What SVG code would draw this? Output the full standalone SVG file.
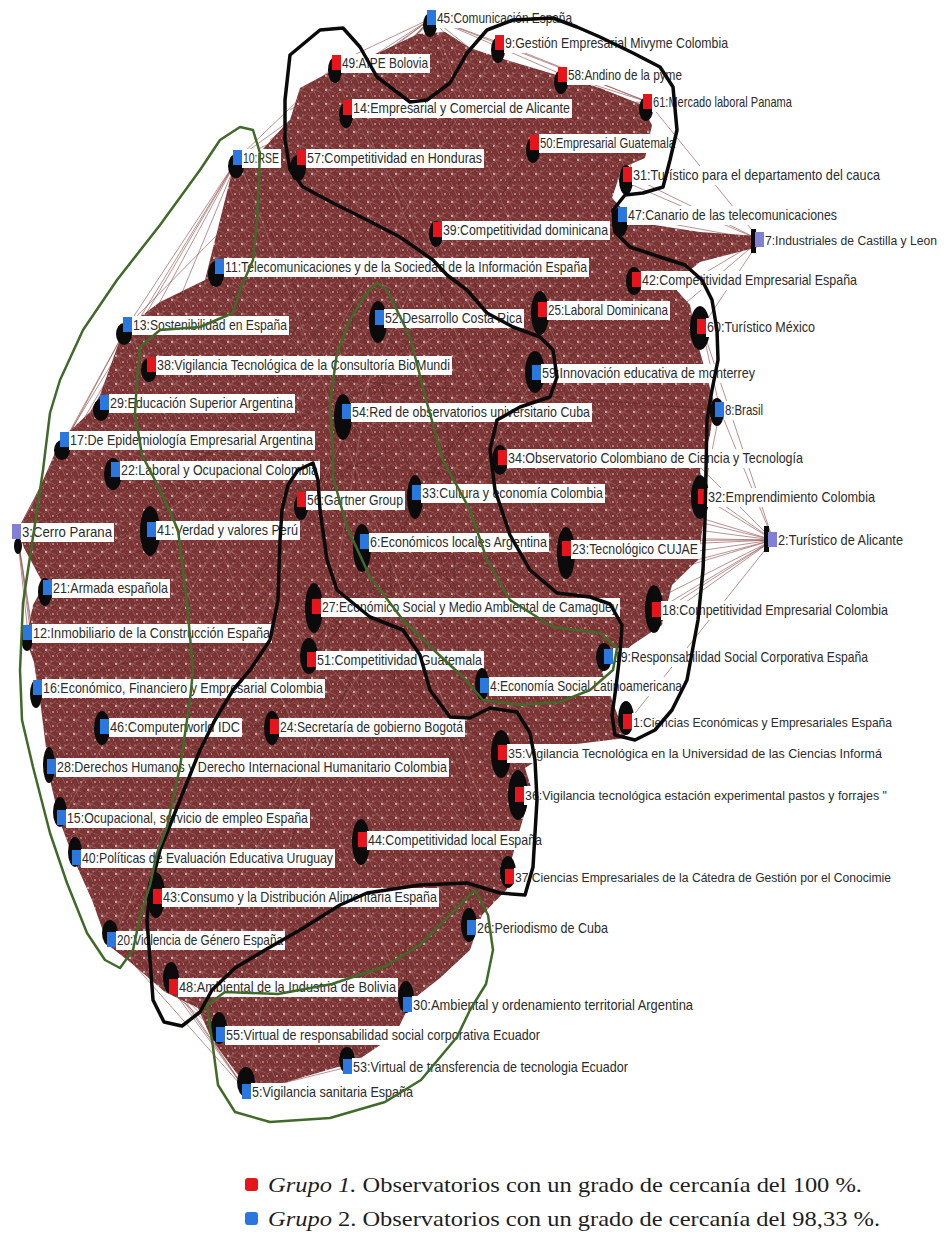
<svg xmlns="http://www.w3.org/2000/svg" xmlns:xlink="http://www.w3.org/1999/xlink" width="944" height="1240" viewBox="0 0 944 1240">
<style>
.lbl{font-family:"Liberation Sans Narrow","Liberation Sans",Arial,sans-serif;font-size:15px;fill:#2b2b2b}
.sm{font-size:13.5px}
.xs{font-size:12.5px}
.box{fill:#ffffff}
.r{fill:#e8141c}
.b{fill:#2a78df}
.l{fill:#8080d4}
.blob{fill:#0b0b0b}
.fan{stroke:#8a4646;stroke-width:0.7;fill:none;opacity:0.85}
.streak{stroke:#5a2222;stroke-width:0.8;fill:none;opacity:0.55}
.streak2{stroke:#c89a9a;stroke-width:0.6;fill:none;opacity:0.5}
.lk{fill:none;stroke:#0a0a0a;stroke-width:3.5;stroke-linejoin:round;stroke-linecap:round}
.lg{fill:none;stroke:#41692a;stroke-width:2.5;stroke-linejoin:round;stroke-linecap:round}
.leg{font-family:"Liberation Serif","Times New Roman",serif;font-size:21px;fill:#1e1e1e}
</style>
<defs>
<pattern id="mesh" width="14" height="14" patternUnits="userSpaceOnUse">
<rect width="14" height="14" fill="#7a3434"/>
<path d="M0 3 L14 9 M0 11 L14 1 M3 0 L9 14" stroke="#a06060" stroke-width="0.7"/>
<circle cx="4" cy="6" r="0.9" fill="#efd8d8"/>
<circle cx="11" cy="12" r="0.8" fill="#efd8d8"/>
<circle cx="9" cy="3" r="0.6" fill="#e6c8c8"/>
<circle cx="1.5" cy="12" r="0.5" fill="#e6c8c8"/>
</pattern>
<polygon id="massShape" points="290,120 300,88 330,72 380,52 418,34 445,32 470,48 500,58 540,70 600,88 640,104 652,125 645,158 622,168 612,198 635,222 700,232 758,236 758,247 700,262 672,285 690,305 698,345 708,380 714,405 710,435 700,470 705,510 698,560 672,585 662,625 632,645 602,672 612,700 626,738 560,746 525,768 532,790 522,822 512,858 508,888 482,915 470,950 440,978 412,1000 395,1035 355,1062 300,1078 255,1092 238,1075 212,1040 198,1008 165,992 130,962 108,945 92,900 75,862 60,822 50,780 45,740 40,700 34,662 26,640 33,605 44,585 24,548 18,530 32,505 52,460 60,440 90,412 100,395 118,345 125,328 160,302 205,280 220,220 232,172 262,150 285,125"/>
<clipPath id="massClip"><use xlink:href="#massShape"/></clipPath>
</defs>
<rect width="944" height="1240" fill="#ffffff"/>

<g id="connectors">
<path class="fan" d="M773,540 L703,497 M773,540 L567,549 M773,540 L657,610 M773,540 L503,458 M773,540 L609,657 M773,540 L365,542 M773,540 L317,607 M773,540 L628,722 M773,540 L537,373 M773,540 L417,493 M773,540 L485,686 M773,540 L543,310 M773,540 L720,410 M773,540 L702,327 M773,540 L312,660 M773,540 L152,530 M773,540 L680,600 M773,540 L640,580 M773,540 L690,520"/>
<path class="fan" d="M760,240 L623,215 M760,240 L628,175 M760,240 L637,280 M760,240 L702,327 M760,240 L543,310 M760,240 L438,230 M760,240 L537,373 M760,240 L535,143 M760,240 L503,458 M760,240 L220,267 M760,240 L648,102 M760,240 L380,318 M760,240 L680,255 M760,240 L660,230"/>
<path class="fan" d="M17,532 L65,440 M17,532 L116,470 M17,532 L48,588 M17,532 L28,633 M17,532 L38,688 M17,532 L152,530 M17,532 L105,403 M17,532 L128,325 M17,532 L52,767 M17,532 L152,365 M17,532 L238,158 M17,532 L62,818"/>
<path class="fan" d="M432,18 L337,63 M432,18 L348,108 M432,18 L238,158 M432,18 L302,158 M432,18 L500,43 M432,18 L563,75 M432,18 L648,102 M432,18 L535,143 M432,18 L438,230 M432,18 L220,267 M432,18 L128,325 M432,18 L628,175 M432,18 L290,110 M432,18 L270,140"/>
<path class="fan" d="M247,1092 L112,940 M247,1092 L174,987 M247,1092 L221,1035 M247,1092 L348,1067 M247,1092 L408,1005 M247,1092 L472,928 M247,1092 L158,897 M247,1092 L77,858 M247,1092 L62,818 M247,1092 L363,840 M247,1092 L510,877 M247,1092 L520,795"/>
<path class="fan" d="M348,1067 L221,1035 M348,1067 L408,1005 M348,1067 L472,928 M348,1067 L174,987 M348,1067 L112,940 M348,1067 L158,897 M348,1067 L510,877 M348,1067 L363,840 M348,1067 L260,1060 M348,1067 L280,1045"/>
<path class="fan" d="M221,1035 L112,940 M221,1035 L174,987 M221,1035 L408,1005 M221,1035 L472,928 M221,1035 L158,897 M221,1035 L77,858 M221,1035 L363,840"/>
<path class="fan" d="M408,1005 L472,928 M408,1005 L510,877 M408,1005 L363,840 M408,1005 L158,897 M408,1005 L174,987 M408,1005 L112,940 M408,1005 L520,795"/>
<path class="fan" d="M112,940 L77,858 M112,940 L62,818 M112,940 L52,767 M112,940 L158,897 M112,940 L174,987 M112,940 L105,727"/>
<path class="fan" d="M720,410 L702,327 M720,410 L637,280 M720,410 L703,497 M720,410 L503,458 M720,410 L537,373 M720,410 L543,310"/>
<path class="fan" d="M648,102 L563,75 M648,102 L500,43 M648,102 L535,143 M648,102 L348,108 M648,102 L628,175 M648,102 L438,230"/>
<path class="fan" d="M472,928 L510,877 M472,928 L520,795 M472,928 L363,840 M472,928 L503,753 M472,928 L158,897"/>
<path class="fan" d="M238,158 L220,267 M238,158 L128,325 M238,158 L152,365 M238,158 L105,403 M238,158 L65,440 M238,158 L302,158 M238,158 L337,63 M238,158 L348,108 M128,325 L65,440 M128,325 L105,403 M65,440 L17,532"/>
<use xlink:href="#massShape" fill="url(#mesh)"/>
<g clip-path="url(#massClip)">
<path class="streak" d="M432,18 L503,458 M337,63 L609,657 M238,158 L567,549 M128,325 L628,722 M65,440 L703,497 M17,532 L637,280 M105,403 L520,795 M52,767 L537,373 M158,897 L628,175 M112,940 L543,310 M220,267 L510,877 M302,158 L485,686 M348,108 L363,840 M500,43 L152,530 M563,75 L28,633 M648,102 L62,818 M623,215 L174,987 M702,327 L48,588 M657,610 L116,470 M720,410 L152,365 M703,497 L38,688 M472,928 L438,230 M408,1005 L380,318 M221,1035 L417,493 M535,143 L77,858 M628,722 L105,727 M503,753 L65,440 M520,795 L238,158 M510,877 L302,500 M312,660 L637,280 M275,727 L543,310"/>
<path class="streak2" d="M348,108 L657,610 M302,158 L703,497 M220,267 L609,657 M152,365 L628,722 M105,403 L510,877 M65,440 L472,928 M48,588 L623,215 M38,688 L535,143 M62,818 L500,43 M112,940 L438,230 M174,987 L537,373 M247,1092 L380,318 M408,1005 L128,325 M510,877 L238,158 M628,722 L337,63 M657,610 L432,18"/>
</g>
</g>

<g id="nodes">
<g id="n45"><ellipse class="blob" cx="430" cy="25" rx="7" ry="12"/><rect class="box" x="436" y="9" width="138" height="19"/><rect class="b" x="427" y="10" width="9" height="15"/><text class="lbl" x="437" y="23" textLength="135" lengthAdjust="spacingAndGlyphs">45:Comunicación España</text></g>
<g id="n9"><ellipse class="blob" cx="498" cy="50" rx="7" ry="13"/><rect class="box" x="504" y="34" width="226" height="19"/><rect class="r" x="495" y="35" width="9" height="15"/><text class="lbl" x="505" y="48" textLength="223" lengthAdjust="spacingAndGlyphs">9:Gestión Empresarial Mivyme Colombia</text></g>
<g id="n49"><ellipse class="blob" cx="335" cy="70" rx="7" ry="13"/><rect class="box" x="341" y="54" width="89" height="19"/><rect class="r" x="332" y="55" width="9" height="15"/><text class="lbl" x="342" y="68" textLength="86" lengthAdjust="spacingAndGlyphs">49:AIPE Bolovia</text></g>
<g id="n58"><ellipse class="blob" cx="561" cy="82" rx="7" ry="12"/><rect class="box" x="567" y="66" width="117" height="19"/><rect class="r" x="558" y="67" width="9" height="15"/><text class="lbl" x="568" y="80" textLength="114" lengthAdjust="spacingAndGlyphs">58:Andino de la pyme</text></g>
<g id="n14"><ellipse class="blob" cx="346" cy="115" rx="7" ry="13"/><rect class="box" x="352" y="99" width="220" height="19"/><rect class="r" x="343" y="100" width="9" height="15"/><text class="lbl" x="353" y="113" textLength="217" lengthAdjust="spacingAndGlyphs">14:Empresarial y Comercial de Alicante</text></g>
<g id="n61"><ellipse class="blob" cx="646" cy="109" rx="7" ry="12"/><rect class="box" x="652" y="93" width="142" height="19"/><rect class="r" x="643" y="94" width="9" height="15"/><text class="lbl" x="653" y="107" textLength="139" lengthAdjust="spacingAndGlyphs">61:Mercado laboral Panama</text></g>
<g id="n10"><ellipse class="blob" cx="236" cy="166" rx="8" ry="12"/><rect class="box" x="242" y="149" width="39" height="19"/><rect class="b" x="233" y="150" width="9" height="15"/><text class="lbl" x="243" y="163" textLength="36" lengthAdjust="spacingAndGlyphs">10:RSE</text></g>
<g id="n57"><ellipse class="blob" cx="298" cy="168" rx="8" ry="13"/><rect class="box" x="306" y="149" width="178" height="19"/><rect class="r" x="297" y="150" width="9" height="15"/><text class="lbl" x="307" y="163" textLength="175" lengthAdjust="spacingAndGlyphs">57:Competitividad en Honduras</text></g>
<g id="n50"><ellipse class="blob" cx="533" cy="150" rx="7" ry="13"/><rect class="box" x="539" y="134" width="138" height="19"/><rect class="r" x="530" y="135" width="9" height="15"/><text class="lbl" x="540" y="148" textLength="135" lengthAdjust="spacingAndGlyphs">50:Empresarial Guatemala</text></g>
<g id="n31"><ellipse class="blob" cx="626" cy="180" rx="7" ry="15"/><rect class="box" x="632" y="166" width="250" height="19"/><rect class="r" x="623" y="167" width="9" height="15"/><text class="lbl" x="633" y="180" textLength="247" lengthAdjust="spacingAndGlyphs">31:Turístico para el departamento del cauca</text></g>
<g id="n47"><ellipse class="blob" cx="620" cy="222" rx="8" ry="15"/><rect class="box" x="627" y="206" width="212" height="19"/><rect class="b" x="618" y="207" width="9" height="15"/><text class="lbl" x="628" y="220" textLength="209" lengthAdjust="spacingAndGlyphs">47:Canario de las telecomunicaciones</text></g>
<g id="n7"><rect class="blob" x="751" y="229" width="5" height="24"/><rect class="box" x="764" y="231" width="176" height="19"/><rect class="l" x="755" y="232" width="9" height="15"/><text class="lbl xs" x="765" y="245" textLength="172" lengthAdjust="spacingAndGlyphs">7:Industriales de Castilla y Leon</text></g>
<g id="n39"><ellipse class="blob" cx="436" cy="234" rx="7" ry="13"/><rect class="box" x="442" y="221" width="168" height="19"/><rect class="r" x="433" y="222" width="9" height="15"/><text class="lbl" x="443" y="235" textLength="165" lengthAdjust="spacingAndGlyphs">39:Competitividad dominicana</text></g>
<g id="n11"><ellipse class="blob" cx="216" cy="274" rx="8" ry="13"/><rect class="box" x="224" y="258" width="365" height="19"/><rect class="b" x="215" y="259" width="9" height="15"/><text class="lbl" x="225" y="272" textLength="362" lengthAdjust="spacingAndGlyphs">11:Telecomunicaciones y de la Sociedad de la Información España</text></g>
<g id="n42"><ellipse class="blob" cx="634" cy="281" rx="8" ry="14"/><rect class="box" x="641" y="271" width="218" height="19"/><rect class="r" x="632" y="272" width="9" height="15"/><text class="lbl" x="642" y="285" textLength="215" lengthAdjust="spacingAndGlyphs">42:Competitividad Empresarial España</text></g>
<g id="n13"><ellipse class="blob" cx="124" cy="334" rx="8" ry="11"/><rect class="box" x="132" y="316" width="157" height="19"/><rect class="b" x="123" y="317" width="9" height="15"/><text class="lbl" x="133" y="330" textLength="154" lengthAdjust="spacingAndGlyphs">13:Sostenibilidad en España</text></g>
<g id="n52"><ellipse class="blob" cx="378" cy="322" rx="9" ry="21"/><rect class="box" x="384" y="309" width="140" height="19"/><rect class="b" x="375" y="310" width="9" height="15"/><text class="lbl" x="385" y="323" textLength="137" lengthAdjust="spacingAndGlyphs">52:Desarrollo Costa Rica</text></g>
<g id="n25"><ellipse class="blob" cx="540" cy="313" rx="9" ry="22"/><rect class="box" x="547" y="301" width="123" height="19"/><rect class="r" x="538" y="302" width="9" height="15"/><text class="lbl" x="548" y="315" textLength="120" lengthAdjust="spacingAndGlyphs">25:Laboral Dominicana</text></g>
<g id="n60"><ellipse class="blob" cx="700" cy="328" rx="10" ry="22"/><rect class="box" x="706" y="318" width="111" height="19"/><rect class="r" x="697" y="319" width="9" height="15"/><text class="lbl" x="707" y="332" textLength="108" lengthAdjust="spacingAndGlyphs">60:Turístico México</text></g>
<g id="n38"><ellipse class="blob" cx="149" cy="370" rx="8" ry="12"/><rect class="box" x="156" y="356" width="296" height="19"/><rect class="r" x="147" y="357" width="9" height="15"/><text class="lbl" x="157" y="370" textLength="293" lengthAdjust="spacingAndGlyphs">38:Vigilancia Tecnológica de la Consultoría BioMundi</text></g>
<g id="n59"><ellipse class="blob" cx="535" cy="372" rx="10" ry="21"/><rect class="box" x="541" y="364" width="216" height="19"/><rect class="b" x="532" y="365" width="9" height="15"/><text class="lbl" x="542" y="378" textLength="213" lengthAdjust="spacingAndGlyphs">59:Innovación educativa de monterrey</text></g>
<g id="n29"><ellipse class="blob" cx="101" cy="410" rx="8" ry="11"/><rect class="box" x="109" y="394" width="186" height="19"/><rect class="b" x="100" y="395" width="9" height="15"/><text class="lbl" x="110" y="408" textLength="183" lengthAdjust="spacingAndGlyphs">29:Educación Superior Argentina</text></g>
<g id="n54"><ellipse class="blob" cx="343" cy="417" rx="9" ry="23"/><rect class="box" x="351" y="403" width="241" height="19"/><rect class="b" x="342" y="404" width="9" height="15"/><text class="lbl" x="352" y="417" textLength="238" lengthAdjust="spacingAndGlyphs">54:Red de observatorios universitario Cuba</text></g>
<g id="n8"><ellipse class="blob" cx="717" cy="412" rx="7" ry="14"/><rect class="box" x="724" y="401" width="41" height="19"/><rect class="b" x="715" y="402" width="9" height="15"/><text class="lbl" x="725" y="415" textLength="38" lengthAdjust="spacingAndGlyphs">8:Brasil</text></g>
<g id="n17"><ellipse class="blob" cx="62" cy="450" rx="8" ry="10"/><rect class="box" x="69" y="431" width="246" height="19"/><rect class="b" x="60" y="432" width="9" height="15"/><text class="lbl" x="70" y="445" textLength="243" lengthAdjust="spacingAndGlyphs">17:De Epidemiología Empresarial Argentina</text></g>
<g id="n34"><ellipse class="blob" cx="500" cy="460" rx="8" ry="15"/><rect class="box" x="507" y="449" width="298" height="19"/><rect class="r" x="498" y="450" width="9" height="15"/><text class="lbl" x="508" y="463" textLength="295" lengthAdjust="spacingAndGlyphs">34:Observatorio Colombiano de Ciencia y Tecnología</text></g>
<g id="n22"><ellipse class="blob" cx="113" cy="474" rx="9" ry="16"/><rect class="box" x="120" y="461" width="200" height="19"/><rect class="b" x="111" y="462" width="9" height="15"/><text class="lbl" x="121" y="475" textLength="197" lengthAdjust="spacingAndGlyphs">22:Laboral y Ocupacional Colombia</text></g>
<g id="n32"><ellipse class="blob" cx="700" cy="497" rx="9" ry="22"/><rect class="box" x="707" y="488" width="170" height="19"/><rect class="r" x="698" y="489" width="9" height="15"/><text class="lbl" x="708" y="502" textLength="167" lengthAdjust="spacingAndGlyphs">32:Emprendimiento Colombia</text></g>
<g id="n56"><ellipse class="blob" cx="301" cy="507" rx="7" ry="13"/><rect class="box" x="306" y="491" width="99" height="19"/><rect class="r" x="297" y="492" width="9" height="15"/><text class="lbl" x="307" y="505" textLength="96" lengthAdjust="spacingAndGlyphs">56:Gartner Group</text></g>
<g id="n33"><ellipse class="blob" cx="415" cy="497" rx="8" ry="22"/><rect class="box" x="421" y="484" width="184" height="19"/><rect class="b" x="412" y="485" width="9" height="15"/><text class="lbl" x="422" y="498" textLength="181" lengthAdjust="spacingAndGlyphs">33:Cultura y economía Colombia</text></g>
<g id="n3"><ellipse class="blob" cx="18" cy="546" rx="4" ry="8"/><rect class="box" x="21" y="523" width="93" height="19"/><rect class="l" x="12" y="524" width="9" height="15"/><text class="lbl" x="22" y="537" textLength="90" lengthAdjust="spacingAndGlyphs">3:Cerro Parana</text></g>
<g id="n41"><ellipse class="blob" cx="150" cy="531" rx="10" ry="25"/><rect class="box" x="156" y="521" width="144" height="19"/><rect class="b" x="147" y="522" width="9" height="15"/><text class="lbl" x="157" y="535" textLength="141" lengthAdjust="spacingAndGlyphs">41:Verdad y valores Perú</text></g>
<g id="n6"><ellipse class="blob" cx="362" cy="548" rx="9" ry="24"/><rect class="box" x="369" y="533" width="180" height="19"/><rect class="b" x="360" y="534" width="9" height="15"/><text class="lbl" x="370" y="547" textLength="177" lengthAdjust="spacingAndGlyphs">6:Económicos locales Argentina</text></g>
<g id="n2"><rect class="blob" x="764" y="526" width="5" height="26"/><rect class="box" x="777" y="531" width="128" height="19"/><rect class="l" x="768" y="532" width="9" height="15"/><text class="lbl" x="778" y="545" textLength="125" lengthAdjust="spacingAndGlyphs">2:Turístico de Alicante</text></g>
<g id="n23"><ellipse class="blob" cx="566" cy="553" rx="9" ry="26"/><rect class="box" x="571" y="540" width="129" height="19"/><rect class="r" x="562" y="541" width="9" height="15"/><text class="lbl" x="572" y="554" textLength="126" lengthAdjust="spacingAndGlyphs">23:Tecnológico CUJAE</text></g>
<g id="n21"><ellipse class="blob" cx="45" cy="592" rx="7" ry="14"/><rect class="box" x="52" y="579" width="118" height="19"/><rect class="b" x="43" y="580" width="9" height="15"/><text class="lbl" x="53" y="593" textLength="115" lengthAdjust="spacingAndGlyphs">21:Armada española</text></g>
<g id="n27"><ellipse class="blob" cx="314" cy="608" rx="9" ry="25"/><rect class="box" x="321" y="598" width="299" height="19"/><rect class="r" x="312" y="599" width="9" height="15"/><text class="lbl" x="322" y="612" textLength="296" lengthAdjust="spacingAndGlyphs">27:Económico Social y Medio Ambiental de Camagüey</text></g>
<g id="n18"><ellipse class="blob" cx="654" cy="609" rx="9" ry="24"/><rect class="box" x="661" y="601" width="229" height="19"/><rect class="r" x="652" y="602" width="9" height="15"/><text class="lbl" x="662" y="615" textLength="226" lengthAdjust="spacingAndGlyphs">18:Competitividad Empresarial Colombia</text></g>
<g id="n12"><ellipse class="blob" cx="27" cy="638" rx="6" ry="13"/><rect class="box" x="32" y="624" width="240" height="19"/><rect class="b" x="23" y="625" width="9" height="15"/><text class="lbl" x="33" y="638" textLength="237" lengthAdjust="spacingAndGlyphs">12:Inmobiliario de la Construcción España</text></g>
<g id="n51"><ellipse class="blob" cx="309" cy="656" rx="9" ry="18"/><rect class="box" x="316" y="651" width="168" height="19"/><rect class="r" x="307" y="652" width="9" height="15"/><text class="lbl" x="317" y="665" textLength="165" lengthAdjust="spacingAndGlyphs">51:Competitividad Guatemala</text></g>
<g id="n19"><ellipse class="blob" cx="604" cy="657" rx="8" ry="14"/><rect class="box" x="613" y="648" width="257" height="19"/><rect class="b" x="604" y="649" width="9" height="15"/><text class="lbl" x="614" y="662" textLength="254" lengthAdjust="spacingAndGlyphs">19:Responsabilidad Social Corporativa España</text></g>
<g id="n4"><ellipse class="blob" cx="482" cy="684" rx="7" ry="16"/><rect class="box" x="489" y="677" width="195" height="19"/><rect class="b" x="480" y="678" width="9" height="15"/><text class="lbl" x="490" y="691" textLength="192" lengthAdjust="spacingAndGlyphs">4:Economía Social Latinoamericana</text></g>
<g id="n16"><ellipse class="blob" cx="36" cy="694" rx="6" ry="14"/><rect class="box" x="42" y="679" width="283" height="19"/><rect class="b" x="33" y="680" width="9" height="15"/><text class="lbl" x="43" y="693" textLength="280" lengthAdjust="spacingAndGlyphs">16:Económico, Financiero y Empresarial Colombia</text></g>
<g id="n46"><ellipse class="blob" cx="102" cy="728" rx="8" ry="17"/><rect class="box" x="109" y="718" width="133" height="19"/><rect class="b" x="100" y="719" width="9" height="15"/><text class="lbl" x="110" y="732" textLength="130" lengthAdjust="spacingAndGlyphs">46:Computerworld IDC</text></g>
<g id="n24"><ellipse class="blob" cx="272" cy="728" rx="8" ry="17"/><rect class="box" x="279" y="718" width="186" height="19"/><rect class="r" x="270" y="719" width="9" height="15"/><text class="lbl" x="280" y="732" textLength="183" lengthAdjust="spacingAndGlyphs">24:Secretaría de gobierno Bogotá</text></g>
<g id="n1"><ellipse class="blob" cx="626" cy="718" rx="8" ry="17"/><rect class="box" x="632" y="713" width="263" height="19"/><rect class="r" x="623" y="714" width="9" height="15"/><text class="lbl sm" x="633" y="727" textLength="259" lengthAdjust="spacingAndGlyphs">1:Ciencias Económicas y Empresariales España</text></g>
<g id="n35"><ellipse class="blob" cx="501" cy="754" rx="10" ry="24"/><rect class="box" x="507" y="744" width="378" height="19"/><rect class="r" x="498" y="745" width="9" height="15"/><text class="lbl sm" x="508" y="758" textLength="374" lengthAdjust="spacingAndGlyphs">35:Vigilancia Tecnológica en la Universidad de las Ciencias Informá</text></g>
<g id="n28"><ellipse class="blob" cx="49" cy="765" rx="6" ry="18"/><rect class="box" x="56" y="758" width="393" height="19"/><rect class="b" x="47" y="759" width="9" height="15"/><text class="lbl" x="57" y="772" textLength="390" lengthAdjust="spacingAndGlyphs">28:Derechos Humanos y Derecho Internacional Humanitario Colombia</text></g>
<g id="n36"><ellipse class="blob" cx="518" cy="795" rx="10" ry="25"/><rect class="box" x="524" y="786" width="366" height="19"/><rect class="r" x="515" y="787" width="9" height="15"/><text class="lbl sm" x="525" y="800" textLength="362" lengthAdjust="spacingAndGlyphs">36:Vigilancia tecnológica estación experimental pastos y forrajes "</text></g>
<g id="n15"><ellipse class="blob" cx="60" cy="812" rx="7" ry="15"/><rect class="box" x="66" y="809" width="244" height="19"/><rect class="b" x="57" y="810" width="9" height="15"/><text class="lbl" x="67" y="823" textLength="241" lengthAdjust="spacingAndGlyphs">15:Ocupacional, servicio de empleo España</text></g>
<g id="n44"><ellipse class="blob" cx="361" cy="842" rx="9" ry="23"/><rect class="box" x="367" y="831" width="177" height="19"/><rect class="r" x="358" y="832" width="9" height="15"/><text class="lbl" x="368" y="845" textLength="174" lengthAdjust="spacingAndGlyphs">44:Competitividad local España</text></g>
<g id="n40"><ellipse class="blob" cx="75" cy="852" rx="7" ry="15"/><rect class="box" x="81" y="849" width="254" height="19"/><rect class="b" x="72" y="850" width="9" height="15"/><text class="lbl" x="82" y="863" textLength="251" lengthAdjust="spacingAndGlyphs">40:Políticas de Evaluación Educativa Uruguay</text></g>
<g id="n37"><ellipse class="blob" cx="508" cy="872" rx="8" ry="16"/><rect class="box" x="514" y="868" width="381" height="19"/><rect class="r" x="505" y="869" width="9" height="15"/><text class="lbl sm" x="515" y="882" textLength="376" lengthAdjust="spacingAndGlyphs">37:Ciencias Empresariales de la Cátedra de Gestión por el Conocimie</text></g>
<g id="n43"><ellipse class="blob" cx="156" cy="895" rx="9" ry="23"/><rect class="box" x="162" y="888" width="277" height="19"/><rect class="r" x="153" y="889" width="9" height="15"/><text class="lbl" x="163" y="902" textLength="274" lengthAdjust="spacingAndGlyphs">43:Consumo y la Distribución Alimentaria España</text></g>
<g id="n26"><ellipse class="blob" cx="469" cy="925" rx="8" ry="17"/><rect class="box" x="476" y="919" width="134" height="19"/><rect class="b" x="467" y="920" width="9" height="15"/><text class="lbl" x="477" y="933" textLength="131" lengthAdjust="spacingAndGlyphs">26:Periodismo de Cuba</text></g>
<g id="n20"><ellipse class="blob" cx="110" cy="933" rx="8" ry="13"/><rect class="box" x="116" y="931" width="169" height="19"/><rect class="b" x="107" y="932" width="9" height="15"/><text class="lbl" x="117" y="945" textLength="166" lengthAdjust="spacingAndGlyphs">20:Violencia de Género España</text></g>
<g id="n48"><ellipse class="blob" cx="171" cy="978" rx="8" ry="16"/><rect class="box" x="178" y="978" width="220" height="19"/><rect class="r" x="169" y="979" width="9" height="15"/><text class="lbl" x="179" y="992" textLength="217" lengthAdjust="spacingAndGlyphs">48:Ambiental de la Industria de Bolivia</text></g>
<g id="n30"><ellipse class="blob" cx="406" cy="997" rx="8" ry="16"/><rect class="box" x="412" y="996" width="283" height="19"/><rect class="b" x="403" y="997" width="9" height="15"/><text class="lbl" x="413" y="1010" textLength="280" lengthAdjust="spacingAndGlyphs">30:Ambiental y ordenamiento territorial Argentina</text></g>
<g id="n55"><ellipse class="blob" cx="219" cy="1028" rx="8" ry="16"/><rect class="box" x="225" y="1026" width="317" height="19"/><rect class="b" x="216" y="1027" width="9" height="15"/><text class="lbl" x="226" y="1040" textLength="314" lengthAdjust="spacingAndGlyphs">55:Virtual de responsabilidad social corporativa Ecuador</text></g>
<g id="n53"><ellipse class="blob" cx="347" cy="1060" rx="8" ry="13"/><rect class="box" x="352" y="1058" width="278" height="19"/><rect class="b" x="343" y="1059" width="9" height="15"/><text class="lbl" x="353" y="1072" textLength="275" lengthAdjust="spacingAndGlyphs">53:Virtual de transferencia de tecnologia Ecuador</text></g>
<g id="n5"><ellipse class="blob" cx="246" cy="1082" rx="9" ry="15"/><rect class="box" x="251" y="1083" width="164" height="19"/><rect class="b" x="242" y="1084" width="9" height="15"/><text class="lbl" x="252" y="1097" textLength="161" lengthAdjust="spacingAndGlyphs">5:Vigilancia sanitaria España</text></g>
</g>

<g id="groups">
<path id="loopA" class="lk" d="M285,100 L290,55 L320,30 L343,28 L360,47 L377,77 L410,102 L427,100 L450,83 L467,53 L487,30 L513,20 L553,18 L577,27 L600,37 L633,53 L660,67 L673,87 L677,130 L670,160 L663,187 L643,193 L625,195 L613,210 L615,232 L630,247 L660,257 L685,265 L702,280 L712,300 L717,330 L718,360 L712,390 L707,420 L706,470 L705,520 L703,570 L698,620 L687,680 L672,710 L655,730 L635,740 L615,735 L612,715 L616,687 L620,653 L622,625 L610,604 L590,597 L557,593 L530,570 L510,535 L495,490 L490,450 L497,420 L520,407 L550,397 L557,377 L553,350 L540,337 L513,327 L487,313 L467,290 L447,275 L433,260 L400,237 L367,220 L333,203 L303,187 L290,170 L285,140 Z"/>
<path id="loopB" class="lk" d="M313,463 L298,470 L288,485 L282,510 L280,540 L278,600 L270,640 L250,670 L233,690 L215,720 L200,750 L180,800 L160,850 L150,890 L147,920 L150,960 L153,1000 L164,1022 L182,1026 L200,1012 L212,990 L235,968 L265,950 L300,930 L340,905 L367,893 L420,885 L467,883 L500,893 L525,895 L533,867 L537,800 L535,760 L530,733 L517,712 L490,708 L470,718 L450,717 L430,690 L420,655 L403,630 L370,617 L337,590 L327,560 L320,510 L318,480 Z"/>
<path id="loopC" class="lg" d="M240,127 L220,140 L200,170 L160,225 L117,280 L83,330 L60,380 L50,413 L43,470 L33,537 L23,603 L20,670 L22,720 L33,767 L50,833 L67,883 L87,933 L105,960 L120,968 L133,950 L140,917 L150,885 L157,853 L167,827 L180,767 L190,700 L193,670 L187,603 L178,530 L160,490 L142,455 L135,413 L137,380 L140,347 L160,330 L200,327 L233,313 L240,290 L253,260 L257,220 L260,153 L253,130 Z"/>
<path id="loopD" class="lg" d="M377,283 L365,295 L350,320 L337,353 L330,403 L333,453 L333,477 L347,527 L370,577 L403,620 L437,653 L463,677 L483,700 L520,705 L560,702 L590,690 L613,670 L617,648 L600,633 L553,627 L510,600 L487,560 L470,510 L443,460 L427,403 L410,337 L387,290 Z"/>
<path id="loopE" class="lg" d="M475,890 L488,915 L493,950 L486,984 L470,1010 L457,1037 L421,1080 L385,1102 L330,1118 L270,1122 L235,1112 L218,1085 L212,1040 L207,1005 L225,992 L278,994 L332,984 L386,966 L421,944 L445,920 L465,900 Z"/>
</g>

<g id="legend">
<rect x="245" y="1178" width="13" height="13" rx="3" fill="#e8141c"/>
<text class="leg" x="268" y="1192" textLength="594" lengthAdjust="spacingAndGlyphs"><tspan font-style="italic">Grupo 1.</tspan> Observatorios con un grado de cercanía del 100 %.</text>
<rect x="245" y="1212" width="13" height="13" rx="3" fill="#2a78df"/>
<text class="leg" x="268" y="1226" textLength="612" lengthAdjust="spacingAndGlyphs"><tspan font-style="italic">Grupo</tspan> 2. Observatorios con un grado de cercanía del 98,33 %.</text>
</g>
</svg>
